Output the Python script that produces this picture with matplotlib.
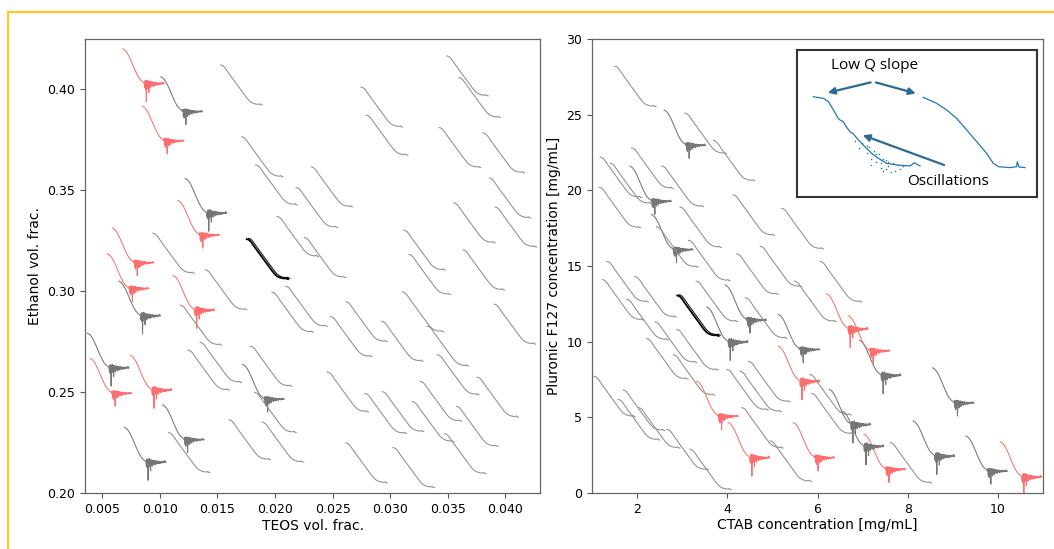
import numpy as np
import matplotlib
matplotlib.use('Agg')
import matplotlib.pyplot as plt
from matplotlib.lines import Line2D

# glyph shapes, normalised: x runs 0..1 across, y runs 0..-1 downward
smooth_x = [0, .04, .08, .12, .16, .20, .30, .40, .50, .60, .66, .72, .77, .82, .87,
            .92, .95, .97, 1.0]
smooth_y = [0, -.01, -.04, -.09, -.15, -.21, -.35, -.49, -.63, -.77, -.85, -.91, -.94,
            -.96, -.97, -.975, -.96, -.985, -.99]
decay_x = [0, .04, .08, .12, .16, .20, .25, .30, .35, .40, .45, .50]
decay_y = [0, -.02, -.06, -.12, -.20, -.29, -.41, -.53, -.64, -.73, -.79, -.83]
tail_a = [0.00, -0.10, 0.07, -0.14, 0.08, -0.45, 0.06, -0.12, 0.09, -0.08, 0.05, -0.22,
          0.06, -0.07, 0.05, -0.10, 0.04, -0.06, 0.05, -0.04, 0.03, -0.07, 0.04, -0.03,
          0.03, -0.05, 0.02, -0.03, 0.03, -0.02, 0.02, -0.04, 0.02, -0.02, 0.01, -0.03,
          0.02, -0.01, 0.02, -0.02, 0.01, -0.01, 0.02, -0.01, 0.01, 0.04, -0.01, 0.00]
tail_b = [0.00, 0.06, -0.11, 0.05, -0.16, 0.07, -0.09, 0.06, -0.32, 0.05, -0.08, 0.06,
          -0.12, 0.04, -0.06, 0.05, -0.09, 0.03, -0.05, 0.04, -0.03, 0.03, -0.06, 0.02,
          -0.03, 0.03, -0.02, 0.02, -0.04, 0.02, -0.01, 0.02, -0.03, 0.01, -0.02, 0.02,
          -0.01, 0.01, -0.02, 0.01, 0.00, 0.02, -0.01, 0.01, 0.03, -0.01, 0.01, 0.00]

# left panel: glyph start points (TEOS, ethanol) and kind
teos = [0.00677, 0.01009, 0.01527, 0.00847, 0.03491, 0.03596, 0.02746, 0.02793,
        0.03425, 0.03805, 0.01710, 0.01832, 0.02314, 0.02183, 0.01219, 0.01156,
        0.03859, 0.03551, 0.03910, 0.02018, 0.01754, 0.02254, 0.03117, 0.03632,
        0.03162, 0.00587, 0.00940, 0.00545, 0.00644, 0.01395, 0.01114, 0.01973,
        0.02093, 0.01177, 0.03105, 0.03901, 0.02614, 0.02482, 0.02925, 0.03320,
        0.00371, 0.01350, 0.01245, 0.00395, 0.00743, 0.01787, 0.03410, 0.01719,
        0.01823, 0.02452, 0.03754, 0.02781, 0.02931, 0.03260, 0.03192, 0.03575,
        0.00692, 0.01024, 0.01075, 0.01599, 0.01889, 0.02614, 0.03024, 0.03470]
ethanol = [0.4201, 0.4062, 0.4121, 0.3917, 0.4166, 0.4059, 0.4012, 0.3872,
           0.3811, 0.3785, 0.3765, 0.3626, 0.3616, 0.3514, 0.3559, 0.3450,
           0.3561, 0.3438, 0.3417, 0.3370, 0.3258, 0.3266, 0.3303, 0.3204,
           0.3182, 0.3313, 0.3287, 0.3185, 0.3050, 0.3106, 0.3078, 0.2995,
           0.3024, 0.2931, 0.2997, 0.2936, 0.2948, 0.2874, 0.2851, 0.2827,
           0.2792, 0.2746, 0.2708, 0.2666, 0.2682, 0.2727, 0.2685, 0.2637,
           0.2498, 0.2600, 0.2574, 0.2493, 0.2502, 0.2554, 0.2453, 0.2429,
           0.2325, 0.2436, 0.2299, 0.2363, 0.2351, 0.2248, 0.2225, 0.2294]
left_kind = ['r', 'n', 's', 'r', 's', 's', 's', 's', 's', 's', 's', 's', 's', 's', 'n', 'r',
             's', 's', 's', 's', 'k', 's', 's', 's', 's', 'r', 's', 'r', 'n', 's', 'r', 's',
             's', 's', 's', 's', 's', 's', 's', 's', 'n', 's', 's', 'r', 'r', 's', 's', 'n',
             's', 's', 's', 's', 's', 's', 's', 's', 'n', 'n', 's', 's', 's', 's', 's', 's']

# right panel: glyph start points (CTAB, F127) and kind
ctab = [1.50, 2.60, 3.06, 3.69, 1.18, 1.40, 1.88, 1.84, 2.55, 1.16, 4.13, 2.32, 2.43,
        2.95, 3.14, 4.73, 5.21, 4.21, 6.06, 1.33, 1.23, 1.95, 2.89, 1.77, 3.31, 3.95,
        3.54, 5.13, 2.40, 2.88, 2.21, 2.80, 5.13, 3.99, 4.28, 4.47, 1.04, 1.69, 1.58,
        2.03, 2.66, 3.32, 4.02, 4.32, 4.95, 5.46, 3.17, 5.83, 6.26, 5.87, 6.93, 8.55,
        8.12, 9.29, 10.05, 7.03, 7.61, 5.49, 6.20, 6.68, 6.55, 4.40]
f127 = [28.2, 25.3, 25.1, 23.3, 22.2, 21.8, 22.8, 21.6, 21.6, 20.2, 19.7, 18.4, 17.6,
        18.9, 16.7, 16.3, 18.8, 15.8, 15.3, 15.3, 14.1, 14.3, 13.05, 12.8, 14.0, 13.75,
        12.3, 11.8, 11.3, 10.8, 10.2, 9.14, 9.7, 8.16, 8.05, 8.70, 7.72, 6.80, 6.18,
        5.64, 4.21, 7.39, 4.65, 5.64, 3.44, 4.65, 2.89, 7.83, 6.84, 6.58, 10.09, 8.27,
        4.76, 3.77, 3.38, 3.88, 3.34, 14.0, 13.16, 11.71, 5.4, 12.9]
right_kind = ['s', 'n', 's', 's', 's', 's', 's', 'n', 's', 's', 's', 'n', 's', 's', 's', 's',
              's', 's', 's', 's', 's', 's', 'k', 's', 's', 'n', 'n', 'n', 's', 's', 's', 's',
              'r', 's', 's', 's', 's', 's', 's', 's', 's', 'r', 'r', 's', 's', 'r', 's', 's',
              'n', 's', 'n', 'n', 'n', 'n', 'r', 'r', 's', 's', 'r', 'r', 'n', 's']

# inset example curves (inset axes units 0..1)
ins1_x = [0.068, 0.110, 0.131, 0.152, 0.172, 0.179, 0.193, 0.207, 0.221, 0.235, 0.256,
          0.283, 0.311, 0.339, 0.374, 0.415, 0.471, 0.488, 0.513]
ins1_y = [0.682, 0.671, 0.648, 0.592, 0.535, 0.524, 0.512, 0.474, 0.444, 0.429, 0.388,
          0.342, 0.297, 0.263, 0.229, 0.218, 0.211, 0.233, 0.211]
ins1_sx = [0.24, 0.26, 0.27, 0.29, 0.30, 0.31, 0.32, 0.33, 0.34, 0.35, 0.36, 0.37, 0.38,
           0.39, 0.40, 0.41, 0.42, 0.43, 0.35, 0.38, 0.33, 0.29, 0.44, 0.36, 0.31, 0.37]
ins1_sy = [0.38, 0.33, 0.37, 0.30, 0.34, 0.26, 0.31, 0.24, 0.29, 0.20, 0.26, 0.19, 0.24,
           0.17, 0.23, 0.18, 0.22, 0.19, 0.23, 0.21, 0.29, 0.35, 0.21, 0.18, 0.22, 0.25]
ins2_x = [0.526, 0.582, 0.624, 0.665, 0.707, 0.749, 0.790, 0.818, 0.840, 0.888, 0.915,
          0.918, 0.925, 0.950]
ins2_y = [0.678, 0.637, 0.592, 0.535, 0.456, 0.376, 0.297, 0.229, 0.206, 0.200, 0.206,
          0.240, 0.204, 0.200]

GRAY = '#8e8e8e'
RED = '#ff6e6e'
ARROW = '#2c6a93'


def glyph(ax, x0, y0, kind, dx, dy, i):
    if kind in ('s', 'k'):
        gx = np.array(smooth_x)
        gy = np.array(smooth_y)
    else:
        tail = tail_a if i % 2 == 0 else tail_b
        gx = np.concatenate([decay_x, np.linspace(0.52, 1.0, len(tail))])
        gy = np.concatenate([decay_y, -0.86 + np.array(tail)])
    color = {'s': GRAY, 'n': '#767676', 'r': RED, 'k': 'black'}[kind]
    lw = 1.3 if kind == 'k' else 0.75
    ax.plot(x0 + dx * gx, y0 + dy * gy, color=color, lw=lw, solid_joinstyle='round')
    if kind == 'k':
        ax.plot(x0 + dx * gx + dx * 0.04, y0 + dy * gy + dy * 0.02, color='black', lw=0.7)


W, H = 1054, 549
fig = plt.figure(figsize=(W / 100, H / 100), dpi=100)


def px_axes(x0, y0, x1, y1):
    return fig.add_axes([x0 / W, 1 - y1 / H, (x1 - x0) / W, (y1 - y0) / H])


axL = px_axes(85, 39, 540, 493)
axR = px_axes(592, 39, 1043, 493)

for i, (x, y, k) in enumerate(zip(teos, ethanol, left_kind)):
    glyph(axL, x, y, k, 0.00360, 0.0200, i)
for i, (x, y, k) in enumerate(zip(ctab, f127, right_kind)):
    glyph(axR, x, y, k, 0.92, 2.7, i)

axL.set_xlim(0.0035, 0.0430)
axL.set_ylim(0.20, 0.425)
axL.set_xticks([0.005, 0.010, 0.015, 0.020, 0.025, 0.030, 0.035, 0.040])
axL.set_yticks([0.20, 0.25, 0.30, 0.35, 0.40])
axL.set_xlabel('TEOS vol. frac.', fontsize=10, labelpad=2)
axL.set_ylabel('Ethanol vol. frac.', fontsize=10)

axR.set_xlim(1, 11)
axR.set_ylim(0, 30)
axR.set_xticks([2, 4, 6, 8, 10])
axR.set_yticks([0, 5, 10, 15, 20, 25, 30])
axR.set_xlabel('CTAB concentration [mg/mL]', fontsize=10, labelpad=2)
axR.set_ylabel('Pluronic F127 concentration [mg/mL]', fontsize=10)

for ax in (axL, axR):
    ax.tick_params(labelsize=9, length=3.5, width=0.8, color='#555555')
    for s in ax.spines.values():
        s.set_color('#666666')
        s.set_linewidth(0.9)

# inset annotation box
axI = px_axes(797, 50, 1037, 197)
axI.set_xlim(0, 1)
axI.set_ylim(0, 1)
axI.set_xticks([])
axI.set_yticks([])
for s in axI.spines.values():
    s.set_color('#333333')
    s.set_linewidth(1.5)
axI.plot(ins1_x, ins1_y, color='#1f77b4', lw=0.9)
axI.scatter(ins1_sx, ins1_sy, s=1.2, color='#1f77b4', linewidths=0)
axI.plot(ins2_x, ins2_y, color='#1f77b4', lw=0.9)
arrow_kw = dict(arrowstyle='-|>', color=ARROW, lw=1.6, mutation_scale=10)
axI.annotate('', xy=(0.117, 0.705), xytext=(0.318, 0.784), arrowprops=arrow_kw)
axI.annotate('', xy=(0.506, 0.700), xytext=(0.318, 0.784), arrowprops=arrow_kw)
axI.annotate('', xy=(0.263, 0.427), xytext=(0.624, 0.211), arrowprops=arrow_kw)
axI.text(0.325, 0.895, 'Low Q slope', ha='center', va='center', fontsize=11,
         family='Open Sans')
axI.text(0.629, 0.104, 'Oscillations', ha='center', va='center', fontsize=11,
         family='Open Sans')

# yellow frame
fig.add_artist(Line2D([8 / W, 1], [1 - 12 / H, 1 - 12 / H], color='#ffc72c', lw=1.6))
fig.add_artist(Line2D([8 / W, 8 / W], [0, 1 - 12 / H], color='#ffc72c', lw=1.6))

fig.savefig('out.png', dpi=100)
